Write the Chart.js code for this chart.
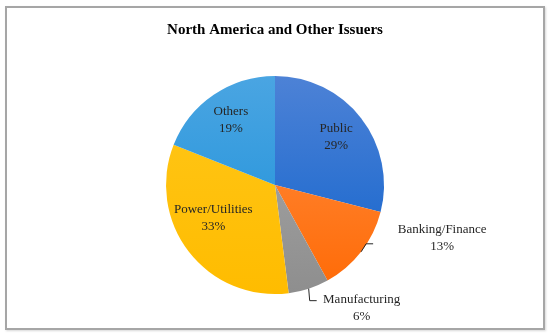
<!DOCTYPE html>
<html>
<head>
<meta charset="utf-8">
<script src="https://cdn.jsdelivr.net/npm/chart.js@4/dist/chart.umd.min.js"></script>
<style>
  body { margin: 0; background: #fff; }
  #wrap { position: relative; width: 550px; height: 335px; }
  #frame {
    position: absolute; left: 5px; top: 6px; width: 536px; height: 320px;
    border: 2px solid #a6a6a6; box-shadow: 1px 1px 2px #d8d8d8; pointer-events: none;
  }
  canvas { position: absolute; left: 0; top: 0; }
</style>
</head>
<body>
<div id="wrap">
  <canvas id="pieChart" width="550" height="335"></canvas>
  <div id="frame"></div>
</div>
<script>
const title = 'North America and Other Issuers';
const sectors = ['Public', 'Banking/Finance', 'Manufacturing', 'Power/Utilities', 'Others'];
const shares = [29, 13, 6, 33, 19];
const topColors = ['#4d82d6', '#ff8f45', '#ababab', '#ffc71a', '#4aa5e2'];
const bottomColors = ['#0f62cc', '#ff6a05', '#8e8e8e', '#ffbc00', '#1a8fd9'];

// where each label goes: inside at a fraction of the radius, or outside with a leader line
const labelSpots = [
  { frac: 0.71 },
  { outside: true, dx: 81, dy: -14, elbow: [5, -8], end: [12, -8] },
  { outside: true, dx: 53, dy: 19, elbow: [1, 12], end: [8, 12] },
  { frac: 0.6, dx: -10, dy: -7 },
  { frac: 0.72 }
];

const serif = '"Liberation Serif", "DejaVu Serif", serif';

const sliceLabels = {
  id: 'sliceLabels',
  afterDatasetsDraw(chart) {
    const ctx = chart.ctx;
    const arcs = chart.getDatasetMeta(0).data;
    ctx.save();
    ctx.font = '13px ' + serif;
    ctx.fillStyle = '#262626';
    ctx.textAlign = 'center';
    ctx.textBaseline = 'middle';
    arcs.forEach((arc, i) => {
      const p = arc.getProps(['x', 'y', 'startAngle', 'endAngle', 'outerRadius'], true);
      const mid = (p.startAngle + p.endAngle) / 2;
      const spot = labelSpots[i];
      let tx, ty;
      if (spot.outside) {
        const ex = p.x + Math.cos(mid) * p.outerRadius;
        const ey = p.y + Math.sin(mid) * p.outerRadius;
        ctx.strokeStyle = '#262626';
        ctx.lineWidth = 1;
        ctx.beginPath();
        ctx.moveTo(ex, ey);
        ctx.lineTo(ex + spot.elbow[0], ey + spot.elbow[1]);
        ctx.lineTo(ex + spot.end[0], ey + spot.end[1]);
        ctx.stroke();
        tx = ex + spot.dx;
        ty = ey + spot.dy;
      } else {
        tx = p.x + Math.cos(mid) * p.outerRadius * spot.frac + (spot.dx || 0);
        ty = p.y + Math.sin(mid) * p.outerRadius * spot.frac + (spot.dy || 0);
      }
      ctx.fillText(sectors[i], tx, ty - 8.5);
      ctx.fillText(shares[i] + '%', tx, ty + 8.5);
    });
    ctx.restore();
  }
};

function sliceFill(c) {
  const area = c.chart.chartArea;
  const i = c.dataIndex;
  if (!area) return topColors[i];
  const g = c.chart.ctx.createLinearGradient(0, area.top, 0, area.bottom);
  g.addColorStop(0, topColors[i]);
  g.addColorStop(1, bottomColors[i]);
  return g;
}

new Chart('pieChart', {
  type: 'pie',
  data: {
    labels: sectors,
    datasets: [{
      data: shares,
      backgroundColor: sliceFill,
      borderWidth: 0
    }]
  },
  options: {
    responsive: false,
    animation: false,
    layout: { padding: { top: 0, bottom: 41, left: 20, right: 20 } },
    plugins: {
      legend: { display: false },
      tooltip: { enabled: false },
      title: {
        display: true,
        text: title,
        color: '#000',
        font: { family: serif, size: 15, weight: 'bold', lineHeight: 1.2 },
        padding: { top: 21, bottom: 37 }
      }
    }
  },
  plugins: [sliceLabels]
});
</script>
</body>
</html>
